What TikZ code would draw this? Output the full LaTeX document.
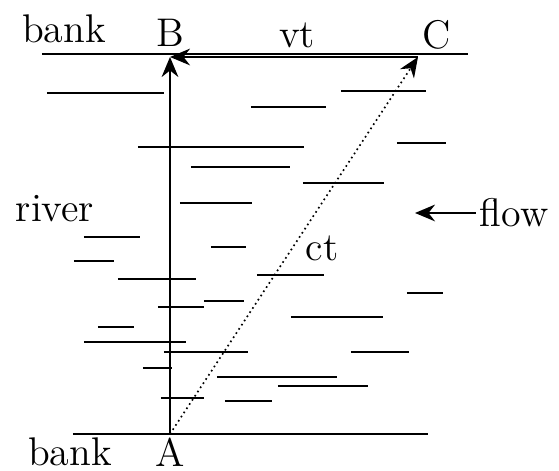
\documentclass[tikz,border=0pt]{standalone}
\usepackage{amsmath}
\usepackage{tikz}
\usetikzlibrary{arrows.meta}

\begin{document}
\begin{tikzpicture}[x=0.3pt, y=-0.3pt, >={Stealth[length=6pt,width=5pt]}, font=\large]

  % Parameters
  \def\ytop{54}         % upper bank
  \def\ybot{434}        % lower bank
  \def\xA{170}
  \def\xC{418}

  \useasboundingbox (0,0) rectangle (559,471);

  % Points
  \coordinate (A) at (\xA,\ybot);
  \coordinate (B) at (\xA,\ytop+3);
  \coordinate (C) at (\xC,\ytop+3);

  % Banks
  \draw[line width=0.7pt] (42,\ytop) -- (468,\ytop);
  \draw[line width=0.7pt] (73,\ybot) -- (428,\ybot);

  % Water ripples
  \draw[line width=0.7pt]
      (47,93) -- (164,93)    (251,107) -- (326,107)  (341,91) -- (426,91)
      (138,147) -- (304,147) (397,143) -- (446,143)  (191,167) -- (290,167)
      (303,183) -- (384,183) (180,203) -- (252,203)  (84,237) -- (140,237)
      (211,247) -- (246,247) (74,261) -- (114,261)   (257,275) -- (324,275)
      (118,279) -- (196,279) (407,293) -- (443,293)  (204,301) -- (244,301)
      (158,307) -- (204,307) (291,317) -- (383,317)  (98,327) -- (134,327)
      (84,342) -- (186,342)  (164,352) -- (248,352)  (351,352) -- (409,352)
      (143,368) -- (172,368) (217,377) -- (337,377)  (278,386) -- (368,386)
      (161,398) -- (204,398) (225,401) -- (272,401);

  % Displacements
  \draw[->, line width=0.7pt] (A) -- (B);
  \draw[->, line width=0.7pt] (C) -- (B);
  \draw[->, line width=0.5pt, densely dotted] (A) -- (C);

  % Labels
  \node (bankup) at (64,29) {bank};
  \node (labB) at (170,33) {B};
  \node (labvt) at (297,35) {vt};
  \node (labC) at (437,35) {C};
  \node (river) at (55,209) {river};
  \node (labct) at (322,248) {ct};
  \node (bankdown) at (70,452) {bank};
  \node (labA) at (170,452) {A};

  % Flow direction
  \node[anchor=west, inner sep=1pt] (flow) at (476,213) {flow};
  \coordinate (flowtip) at (415,213);
  \draw[->, line width=0.7pt] (flow) -- (flowtip);
\end{tikzpicture}
\end{document}
